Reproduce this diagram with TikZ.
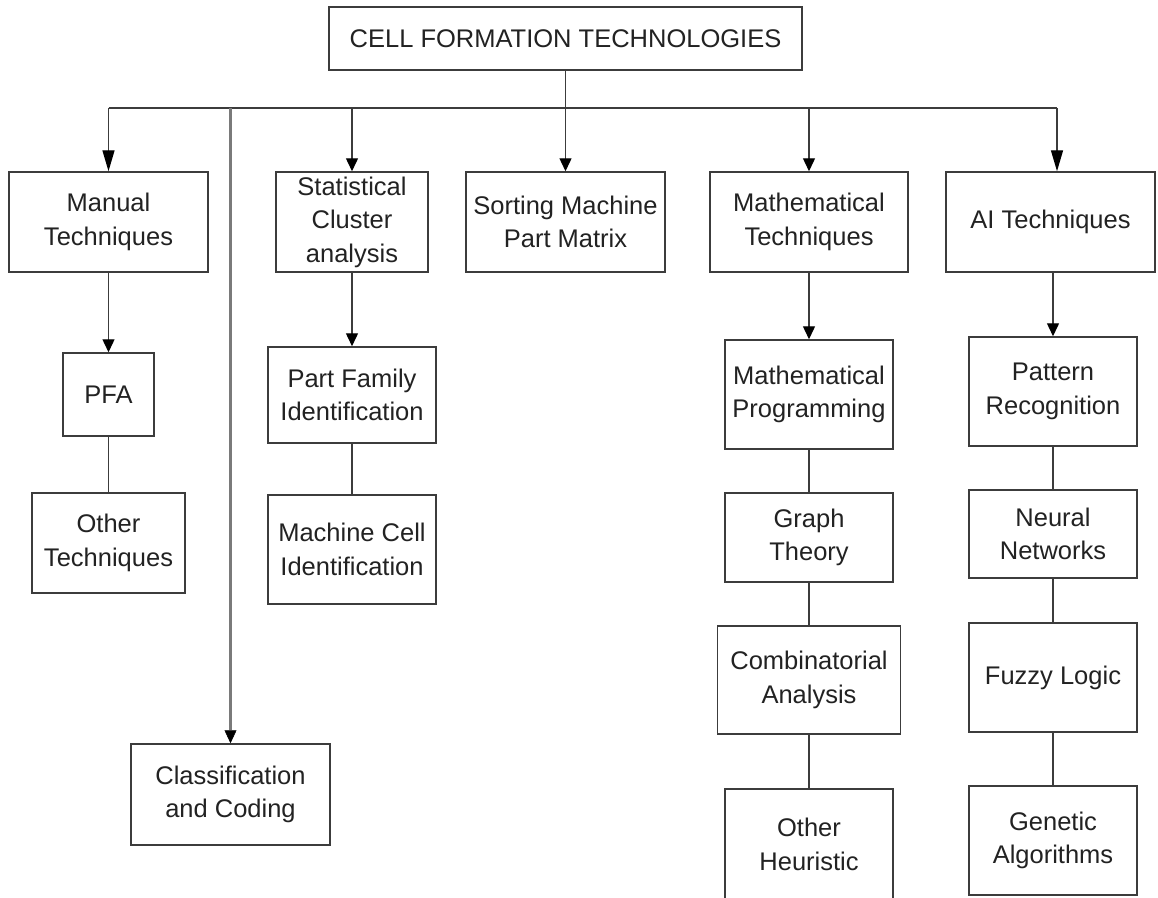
\documentclass[tikz,border=0pt]{standalone}
\usepackage{fontspec}
\setmainfont{Liberation Sans}
\usetikzlibrary{arrows.meta}

\definecolor{edge}{HTML}{3C3C3C}
\definecolor{ink}{HTML}{222222}
\definecolor{trunk}{HTML}{7A7A7A}

\tikzset{
  box/.style={draw=edge, line width=1.5pt, fill=white, text=ink, align=center,
    inner sep=0pt, font=\fontsize{25.5}{33.5}\selectfont},
  link/.style={draw=edge, line width=1.4pt},
  arr/.style={link, -{Triangle[length=13pt, width=12pt, color=black]}},
  bigarr/.style={link, -{Triangle[length=21pt, width=12pt, color=black]}},
  trunkline/.style={draw=trunk, line width=2.6pt, -{Triangle[length=13pt, width=12pt, color=black, line width=0.5pt]}},
}

\begin{document}
\begin{tikzpicture}[x=1pt, y=-1pt]
  \useasboundingbox (0,0) rectangle (1158,897);
  \clip (0,0) rectangle (1158,897);
  \fill[white] (0,0) rectangle (1158,897);

  % root
  \node[box, minimum width=473pt, minimum height=63pt] (root) at (565.5,38.5) {CELL FORMATION TECHNOLOGIES};

  % first level
  \node[box, minimum width=199pt, minimum height=100pt] (manual) at (108.5,222) {Manual\\Techniques};
  \node[box, minimum width=152pt, minimum height=100pt] (stat) at (352,222) {Statistical\\Cluster\\analysis};
  \node[box, minimum width=199pt, minimum height=100pt] (sort) at (565.5,222) {Sorting Machine\\Part Matrix};
  \node[box, minimum width=198pt, minimum height=100pt] (math) at (809,222) {Mathematical\\Techniques};
  \node[box, minimum width=209pt, minimum height=100pt] (ai) at (1050.5,222) {AI Techniques};

  % manual branch
  \node[box, minimum width=91pt, minimum height=83pt] (pfa) at (108.5,394.5) {PFA};
  \node[box, minimum width=153pt, minimum height=100pt] (othtech) at (108.5,543) {Other\\Techniques};

  % coding branch
  \node[box, minimum width=199pt, minimum height=101pt] (coding) at (230.5,794.5) {Classification\\and Coding};

  % statistical branch
  \node[box, minimum width=168pt, minimum height=96pt] (family) at (352,395) {Part Family\\Identification};
  \node[box, minimum width=168pt, minimum height=109pt] (cell) at (352,549.5) {Machine Cell\\Identification};

  % mathematical branch
  \node[box, minimum width=168pt, minimum height=109pt] (mprog) at (809,394.5) {Mathematical\\Programming};
  \node[box, minimum width=168pt, minimum height=89pt] (graph) at (809,537.5) {Graph\\Theory};
  \node[box, minimum width=183pt, minimum height=108pt] (comb) at (809,680) {Combinatorial\\Analysis};
  \node[box, minimum width=168pt, minimum height=111pt] (heur) at (809,844.5) {Other\\Heuristic};

  % AI branch
  \node[box, minimum width=168pt, minimum height=109pt] (pattern) at (1053,391.5) {Pattern\\Recognition};
  \node[box, minimum width=168pt, minimum height=88pt] (neural) at (1053,534) {Neural\\Networks};
  \node[box, minimum width=168pt, minimum height=109pt] (fuzzy) at (1053,677.5) {Fuzzy Logic};
  \node[box, minimum width=168pt, minimum height=109pt] (genetic) at (1053,840.5) {Genetic\\Algorithms};

  % distribution bus
  \coordinate (busL) at (108.5,108);
  \coordinate (busC) at (230.5,108);
  \coordinate (busR) at (1057,108);
  \draw[link] (busL) -- (busR);

  \draw[arr] (root.south) -- (sort.north);
  \draw[bigarr] (busL) -- (manual.north);
  \draw[trunkline] (busC) -- (coding.north);
  \draw[arr] (stat.north |- busL) -- (stat.north);
  \draw[arr] (math.north |- busL) -- (math.north);
  \draw[bigarr] (busR) -- (busR |- ai.north);

  % sub-branches
  \draw[arr] (manual.south) -- (pfa.north);
  \draw[link] (pfa.south) -- (othtech.north);

  \draw[arr] (stat.south) -- (family.north);
  \draw[link] (family.south) -- (cell.north);

  \draw[arr] (math.south) -- (mprog.north);
  \draw[link] (mprog.south) -- (graph.north);
  \draw[link] (graph.south) -- (comb.north);
  \draw[link] (comb.south) -- (heur.north);

  \draw[arr] (pattern.north |- ai.south) -- (pattern.north);
  \draw[link] (pattern.south) -- (neural.north);
  \draw[link] (neural.south) -- (fuzzy.north);
  \draw[link] (fuzzy.south) -- (genetic.north);
\end{tikzpicture}
\end{document}
